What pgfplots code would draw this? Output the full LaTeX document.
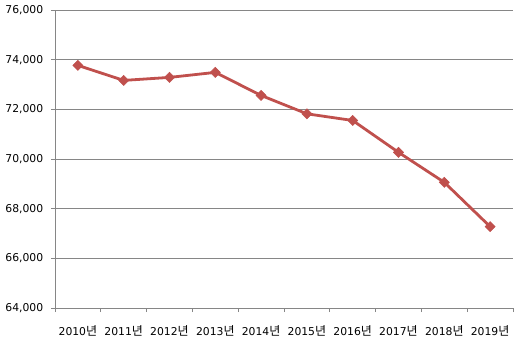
\documentclass[border=0pt]{standalone}
\usepackage{fontspec}
\setmainfont{DejaVu Sans}
\newfontfamily\kr{Noto Sans CJK KR}
\newcommand\nyeon{{\kr\fontsize{12}{13}\selectfont 년}}
\usepackage{pgfplots}
\pgfplotsset{compat=1.18}
\definecolor{linered}{HTML}{C0504D}
\definecolor{gridgray}{HTML}{868686}
\begin{document}
\fontsize{10.8}{13}\selectfont
\begin{tikzpicture}
\begin{axis}[
  scale only axis,
  width=458pt, height=298pt,
  xmin=-0.5, xmax=9.5,
  ymin=64000, ymax=76000,
  ytick={64000,66000,...,76000},
  xtick={0,...,9},
  xticklabels={2010\nyeon,2011\nyeon,2012\nyeon,2013\nyeon,2014\nyeon,2015\nyeon,2016\nyeon,2017\nyeon,2018\nyeon,2019\nyeon},
  minor xtick={-0.5,0.5,...,9.5},
  axis x line*=bottom,
  axis y line*=left,
  axis line style={draw=gridgray, line width=0.8pt},
  ymajorgrids,
  grid style={draw=gridgray, line width=0.8pt},
  tick align=outside,
  major tick length=4pt,
  minor tick length=4pt,
  x tick style={draw=none},
  minor x tick style={draw=gridgray, line width=0.8pt},
  y tick style={draw=gridgray, line width=0.8pt},
  xticklabel style={yshift=-10pt, font=\fontsize{10.8}{13}\selectfont},
  yticklabel style={xshift=-4pt, font=\fontsize{10.8}{13}\selectfont},
  /pgf/number format/assume math mode=true,
  /pgf/number format/1000 sep={,},
  scaled y ticks=false,
  clip=false,
]
\addplot[linered, line width=2.8pt, mark=square*, mark size=3.6pt, mark options={fill=linered, draw=linered, line width=0.5pt, rotate=45}]
coordinates {
(0,73770) (1,73165) (2,73286) (3,73488) (4,72560)
(5,71820) (6,71551) (7,70269) (8,69061) (9,67278)
};
\end{axis}
\pgfresetboundingbox
\path (current axis.south west) ++(-55pt,-41pt) rectangle ++(527pt,349pt);
\end{tikzpicture}
\end{document}
